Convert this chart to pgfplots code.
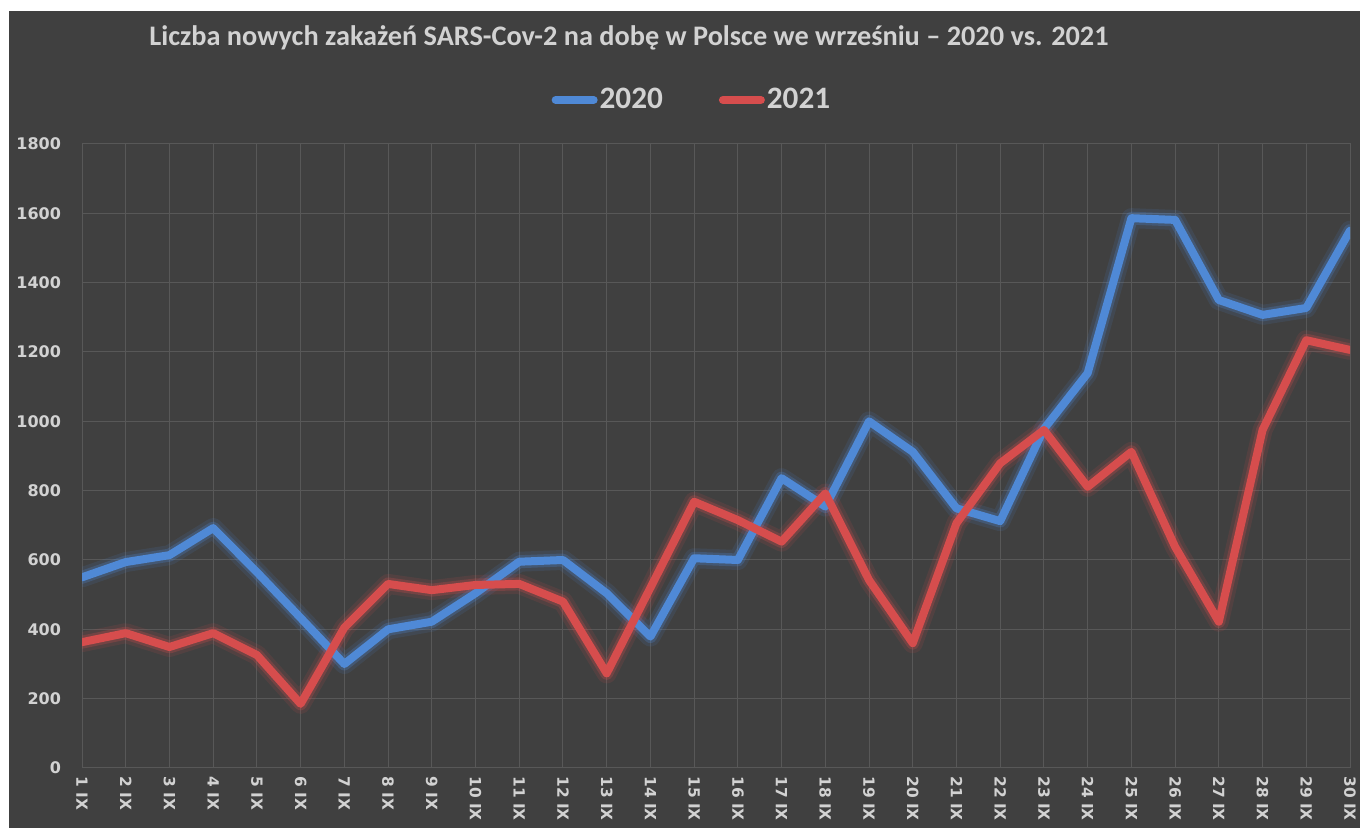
\documentclass[border=0pt]{standalone}
\usepackage{pgfplots}
\pgfplotsset{compat=1.18}
\usepackage{pgfplotstable}
\usepackage{fontspec}
\setmainfont{Carlito}
\newfontfamily\tickfont{DejaVu Sans}
\definecolor{bg}{HTML}{404040}
\definecolor{gridc}{HTML}{585858}
\definecolor{txt}{HTML}{D2D2D2}
\definecolor{c20}{HTML}{4F89D6}
\definecolor{c21}{HTML}{D64D4D}

\pgfplotstableread{
day y2020 y2021
1 550 363
2 594 389
3 614 349
4 692 389
5 565 326
6 433 185
7 300 405
8 400 531
9 422 513
10 504 528
11 595 531
12 600 480
13 504 273
14 379 520
15 605 768
16 600 715
17 836 653
18 754 792
19 1000 542
20 912 360
21 749 706
22 712 879
23 978 975
24 1139 811
25 1586 912
26 1581 638
27 1350 422
28 1307 975
29 1327 1234
30 1550 1206
}\data

\begin{document}
\begin{tikzpicture}[x=1pt,y=1pt]
\useasboundingbox (0,0) rectangle (680,414);
\fill[white] (0,0) rectangle (680,414);
\fill[bg] (4.5,0) rectangle (680,408.5);
\node[anchor=base, text=txt, font=\bfseries\fontsize{14.15}{16}\selectfont] at (314.5,391) {Liczba nowych zakażeń SARS-Cov-2 na dobę w Polsce we wrześniu – 2020 vs. 2021};
\begin{axis}[
  at={(41pt,30pt)}, anchor=south west,
  scale only axis, width=634pt, height=312pt,
  xmin=1, xmax=30, ymin=0, ymax=1800,
  xtick={1,...,30},
  xticklabels={1 IX,2 IX,3 IX,4 IX,5 IX,6 IX,7 IX,8 IX,9 IX,10 IX,11 IX,12 IX,13 IX,14 IX,15 IX,16 IX,17 IX,18 IX,19 IX,20 IX,21 IX,22 IX,23 IX,24 IX,25 IX,26 IX,27 IX,28 IX,29 IX,30 IX},
  ytick={0,200,...,1800},
  yticklabels={0,200,400,600,800,1000,1200,1400,1600,1800},
  major tick length=0pt,
  grid=major,
  grid style={gridc, line width=0.5pt},
  axis line style={gridc, line width=0.5pt},
  ticklabel style={text=txt, font=\tickfont\bfseries\fontsize{8}{9}\selectfont},
  xticklabel style={rotate=-90, anchor=west, xshift=3pt, inner sep=1pt, font=\tickfont\bfseries\fontsize{7.7}{9}\selectfont},
  yticklabel style={xshift=-7pt},
  legend style={at={(0.481,1.0705)}, anchor=center, draw=none, fill=none,
    legend columns=2, text=txt, font=\bfseries\fontsize{15.6}{17}\selectfont,
    /tikz/every even column/.append style={column sep=27pt},
    nodes={inner sep=1pt}},
  legend image code/.code={\draw[#1, line width=4pt, line cap=round] (2pt,0) -- (21pt,0);},
  every axis plot/.append style={line join=round, line cap=round},
]
\addplot[c20, line width=10pt, opacity=0.12, forget plot] table[x=day, y=y2020] {\data};
\addplot[c21, line width=10pt, opacity=0.12, forget plot] table[x=day, y=y2021] {\data};
\addplot[c20, line width=6.5pt, opacity=0.25, forget plot] table[x=day, y=y2020] {\data};
\addplot[c21, line width=6.5pt, opacity=0.25, forget plot] table[x=day, y=y2021] {\data};
\addplot[c20, line width=4pt] table[x=day, y=y2020] {\data};
\addplot[c21, line width=4pt] table[x=day, y=y2021] {\data};
\legend{2020,2021}
\end{axis}
\end{tikzpicture}
\end{document}
